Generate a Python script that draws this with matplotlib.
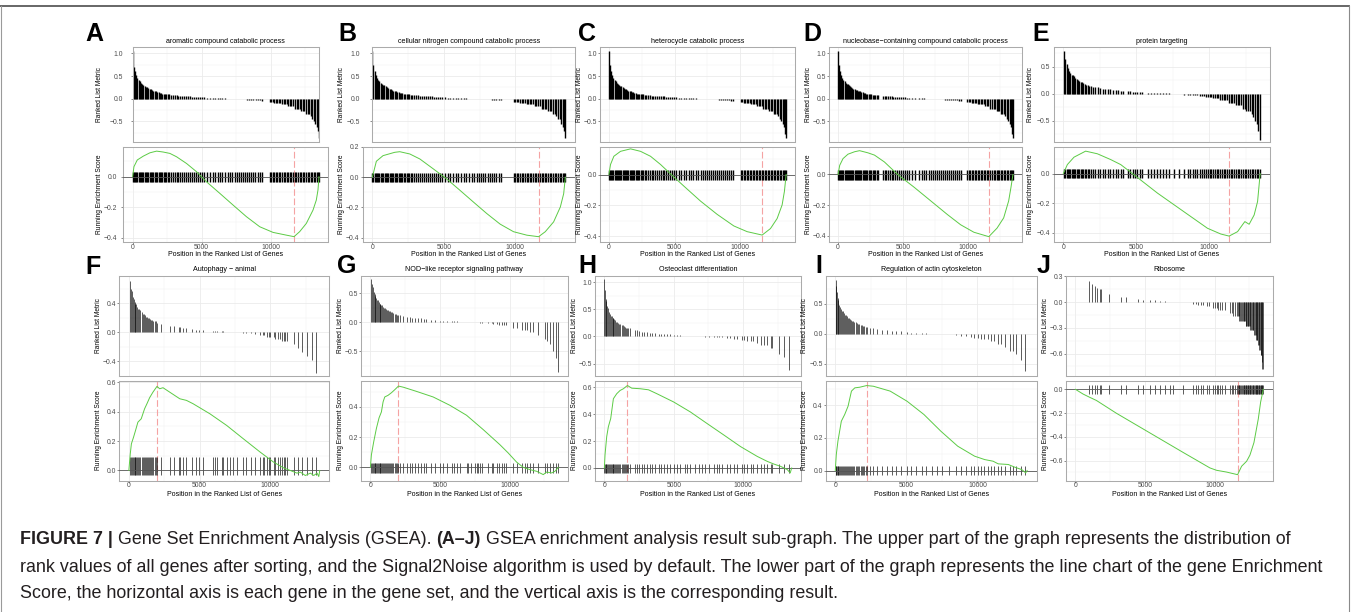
# -*- coding: utf-8 -*-
"""
GSEA result panels A-J: ranked list metric (top) and running enrichment score (bottom),
with the figure caption underneath.
"""
import matplotlib.pyplot as plt
import numpy as np
from matplotlib.lines import Line2D

plt.rcParams["font.family"] = ["Liberation Sans", "DejaVu Sans"]

W, H = 1352, 612
N_GENES = 13500

# %% Data
# Ranked list metric (Signal2Noise) of the full gene list, read at these ranks
metric_rank = [0, 10, 20, 35, 50, 75, 100, 135, 170, 210, 250, 300, 350, 400, 500, 600, 700, 800,
               900, 1000, 1100, 1250, 1400, 1500, 1650, 1800, 2000, 2250, 2500, 2750, 3000, 3500,
               4000, 4500, 5000, 5500, 6000, 6500, 7000, 7500, 8000, 8500, 9000, 9500, 10000,
               10500, 11000, 11500, 12000, 12400, 12700, 12900, 13050, 13150, 13250, 13330,
               13400, 13450, 13490]
metric_value = [1.06, 0.95, 0.9, 0.85, 0.8, 0.75, 0.7, 0.65, 0.6, 0.56, 0.52, 0.48, 0.45, 0.42,
                0.38, 0.35, 0.32, 0.3, 0.27, 0.25, 0.23, 0.21, 0.19, 0.18, 0.165, 0.15, 0.13,
                0.115, 0.1, 0.09, 0.08, 0.065, 0.05, 0.04, 0.03, 0.022, 0.015, 0.01, 0.004,
                -0.002, -0.01, -0.018, -0.03, -0.045, -0.065, -0.09, -0.125, -0.165, -0.22,
                -0.28, -0.33, -0.38, -0.44, -0.5, -0.56, -0.62, -0.7, -0.78, -0.86]

titles = ["aromatic compound catabolic process", "cellular nitrogen compound catabolic process",
          "heterocycle catabolic process", "nucleobase\u2212containing compound catabolic process",
          "protein targeting", "Autophagy \u2212 animal", "NOD\u2212like receptor signaling pathway",
          "Osteoclast differentiation", "Regulation of actin cytoskeleton", "Ribosome"]

# gene set members (rank in the list), one list per panel
hits_A = [5, 90, 180, 260, 350, 430, 520, 610, 700, 780, 870, 960, 1050, 1150, 1230, 1320, 1420,
          1500, 1600, 1690, 1780, 1880, 1960, 2060, 2150, 2250, 2340, 2440, 2530, 2620, 2760, 2900,
          3050, 3180, 3300, 3460, 3590, 3730, 3870, 4000, 4150, 4290, 4420, 4580, 4720, 4850, 5020,
          5200, 5380, 5600, 5790, 5950, 6150, 6320, 6500, 6700, 6880, 7050, 7230, 7400, 7550, 7700,
          7840, 7990, 8130, 8300, 8440, 8600, 8750, 8900, 9060, 9200, 9380, 9920, 10030, 10140,
          10260, 10370, 10480, 10600, 10710, 10820, 10940, 11050, 11160, 11280, 11390, 11500, 11620,
          11760, 11870, 11990, 12100, 12220, 12330, 12440, 12560, 12670, 12780, 12900, 13010, 13120,
          13230, 13330, 13420, 13490]
hits_B = [0, 70, 160, 250, 330, 420, 500, 590, 680, 770, 850, 940, 1030, 1120, 1210, 1290, 1380,
          1470, 1560, 1650, 1740, 1830, 1920, 2010, 2100, 2200, 2290, 2390, 2480, 2580, 2680, 2800,
          2940, 3070, 3200, 3350, 3480, 3620, 3760, 3900, 4040, 4180, 4330, 4470, 4610, 4760, 4900,
          5080, 5260, 5450, 5640, 5830, 6020, 6200, 6390, 6580, 6760, 6950, 7130, 7300, 7450, 7600,
          7760, 7900, 8060, 8210, 8370, 8520, 8680, 8850, 8990, 9880, 9990, 10100, 10220, 10330,
          10440, 10560, 10670, 10790, 10900, 11010, 11130, 11240, 11360, 11470, 11590, 11720, 11840,
          11950, 12070, 12180, 12300, 12410, 12530, 12640, 12760, 12870, 12990, 13100, 13210, 13320,
          13410, 13490]
hits_C = [0, 80, 170, 260, 340, 430, 520, 600, 690, 780, 870, 950, 1040, 1130, 1220, 1310, 1400,
          1490, 1580, 1670, 1760, 1850, 1940, 2030, 2130, 2220, 2320, 2410, 2510, 2610, 2720, 2850,
          2990, 3120, 3260, 3390, 3530, 3670, 3810, 3950, 4090, 4230, 4380, 4520, 4670, 4820, 4980,
          5150, 5330, 5510, 5700, 5880, 6070, 6250, 6440, 6620, 6810, 7000, 7180, 7350, 7500, 7650,
          7800, 7950, 8100, 8250, 8400, 8560, 8710, 8860, 9010, 9160, 9320, 9480, 10040, 10150,
          10260, 10380, 10490, 10600, 10720, 10830, 10950, 11060, 11170, 11290, 11400, 11520, 11640,
          11760, 11880, 11990, 12110, 12220, 12340, 12450, 12570, 12680, 12800, 12910, 13030, 13140,
          13250, 13350, 13430, 13490]
hits_D = [0, 75, 160, 245, 330, 410, 500, 580, 670, 750, 840, 930, 1010, 1100, 1190, 1280, 1360,
          1450, 1540, 1630, 1720, 1810, 1900, 1990, 2080, 2170, 2270, 2360, 2460, 2560, 2660, 2770,
          2880, 3000, 3110, 3480, 3600, 3730, 3860, 3990, 4130, 4260, 4400, 4540, 4680, 4830, 4980,
          5140, 5300, 5460, 5700, 5960, 6220, 6450, 6630, 6810, 7000, 7180, 7350, 7510, 7660, 7810,
          7970, 8120, 8280, 8430, 8590, 8740, 8900, 9050, 9210, 9370, 9520, 9990, 10100, 10210,
          10330, 10440, 10560, 10670, 10790, 10900, 11020, 11130, 11250, 11360, 11480, 11600, 11760,
          11880, 12000, 12110, 12230, 12340, 12460, 12570, 12690, 12800, 12920, 13030, 13150, 13260,
          13360, 13440, 13490]
hits_E = [50, 130, 220, 300, 390, 480, 560, 650, 740, 830, 920, 1010, 1100, 1190, 1290, 1380, 1480,
          1580, 1680, 1790, 1900, 2050, 2200, 2370, 2530, 2700, 2880, 3050, 3230, 3400, 3580, 3750,
          3930, 4080, 4450, 4600, 4760, 4920, 5080, 5250, 5420, 5800, 6000, 6200, 6400, 6610, 6820,
          7030, 7250, 7600, 7950, 8300, 8550, 8700, 8860, 9020, 9180, 9340, 9500, 9660, 9800, 9920,
          10040, 10160, 10280, 10400, 10520, 10640, 10760, 10880, 11000, 11120, 11240, 11360, 11480,
          11600, 11720, 11840, 11960, 12080, 12200, 12320, 12440, 12560, 12680, 12800, 12920, 13040,
          13160, 13280, 13380, 13490]
hits_F = [100, 160, 230, 290, 350, 410, 470, 540, 610, 680, 750, 820, 900, 970, 1040, 1110, 1190,
          1270, 1340, 1420, 1500, 1580, 1660, 1740, 1820, 1900, 1980, 2297, 2890, 3174, 3529, 3647,
          3837, 4074, 4500, 4784, 4974, 5258, 5968, 6087, 6205, 6561, 6679, 6916, 7153, 7389, 7626,
          8053, 8289, 8621, 8929, 9284, 9521, 9568, 9758, 9876, 9995, 10232, 10350, 10516, 10705,
          10824, 10942, 11061, 11179, 11653, 11937, 12245, 12600, 12950, 13250]
hits_G = [70, 130, 190, 250, 300, 360, 420, 480, 540, 600, 660, 720, 790, 850, 920, 980, 1040, 1110,
          1180, 1250, 1330, 1400, 1480, 1560, 1650, 1740, 1830, 1920, 1990, 2110, 2350, 2638, 2830,
          3021, 3189, 3429, 3669, 3837, 4029, 4388, 4628, 4988, 5228, 5468, 5827, 5995, 6187, 6427,
          6906, 7026, 7194, 7506, 7626, 7746, 7866, 7985, 8465, 8705, 8825, 9064, 9256, 9424, 9592,
          9736, 10263, 10503, 10863, 11103, 11223, 11462, 11702, 12062, 12541, 12709, 12901, 13140,
          13332, 13490]
hits_H = [0, 40, 90, 150, 210, 270, 330, 390, 460, 520, 590, 650, 720, 790, 860, 930, 1000, 1080,
          1160, 1240, 1320, 1400, 1490, 1580, 1660, 1736, 1856, 2218, 2339, 2532, 2700, 2869, 3062,
          3255, 3424, 3665, 3906, 4075, 4316, 4509, 4701, 4991, 5232, 5473, 5835, 5955, 6196, 6558,
          6799, 7040, 7281, 7522, 7884, 8125, 8246, 8487, 8848, 9089, 9331, 9572, 9933, 10102,
          10295, 10536, 10729, 11018, 11259, 11500, 11741, 11983, 12103, 12585, 12947, 13330]
hits_I = [20, 60, 110, 160, 220, 280, 340, 400, 460, 530, 600, 670, 740, 810, 880, 950, 1030, 1110,
          1190, 1270, 1350, 1430, 1510, 1600, 1690, 1780, 1870, 1960, 2050, 2140, 2230, 2437, 2673,
          2958, 3265, 3621, 3976, 4284, 4615, 5041, 5326, 5705, 6107, 6415, 6817, 7173, 7528, 8002,
          8475, 8830, 9185, 9541, 9778, 10015, 10252, 10488, 10725, 10962, 11199, 11436, 11673,
          11909, 12265, 12502, 12739, 13094, 13330]
hits_J = [983, 1223, 1391, 1583, 1751, 1870, 2422, 3309, 3621, 4508, 4868, 5348, 5707, 6067, 6427,
          6786, 6978, 7746, 8465, 8657, 8825, 8993, 9184, 9424, 9616, 9904, 10024, 10144, 10264,
          10383, 10503, 10743, 11103, 11223, 11343, 11463, 11590, 11650, 11720, 11770, 11840, 11900,
          11950, 12010, 12080, 12120, 12180, 12230, 12280, 12340, 12380, 12430, 12490, 12530, 12580,
          12640, 12680, 12730, 12790, 12830, 12880, 12940, 12980, 13030, 13080, 13130, 13170, 13220,
          13270, 13310, 13350, 13400, 13440, 13450]

# running enrichment score, read at these ranks
es_rank_A = [0, 96, 338, 771, 1254, 1736, 2218, 2700, 3182, 3905, 4629, 5352, 6316, 7280, 8245,
             9209, 10173, 11138, 11693, 12102, 12584, 13066, 13307, 13427, 13500]
es_A = [0, 0.066, 0.11, 0.135, 0.157, 0.168, 0.162, 0.153, 0.131, 0.087, 0.033, -0.033, -0.109,
        -0.186, -0.262, -0.328, -0.365, -0.383, -0.393, -0.36, -0.306, -0.219, -0.153, -0.087, 0]
es_rank_B = [0, 281, 749, 1567, 1918, 2620, 3322, 4258, 5194, 6130, 7066, 8002, 8938, 9874, 10810,
             11628, 12096, 12681, 13149, 13383, 13500]
es_B = [0, 0.105, 0.142, 0.164, 0.168, 0.153, 0.12, 0.055, -0.011, -0.087, -0.164, -0.24, -0.31,
        -0.36, -0.383, -0.393, -0.36, -0.295, -0.197, -0.109, 0]
es_rank_C = [0, 127, 380, 888, 1650, 2411, 3172, 3933, 4695, 5710, 6978, 8247, 9516, 10531, 11673,
             12307, 12814, 13194, 13371, 13500]
es_C = [0, 0.065, 0.118, 0.15, 0.166, 0.15, 0.118, 0.065, 0.004, -0.075, -0.172, -0.258, -0.333,
        -0.37, -0.392, -0.35, -0.285, -0.197, -0.108, 0]
es_rank_D = [0, 128, 383, 767, 1278, 1662, 2301, 2812, 3580, 4602, 5881, 7159, 8438, 9460, 10483,
             11636, 12273, 12784, 13168, 13347, 13500]
es_D = [0, 0.06, 0.104, 0.133, 0.149, 0.156, 0.142, 0.127, 0.082, 0.0, -0.084, -0.173, -0.262,
        -0.329, -0.378, -0.407, -0.351, -0.284, -0.173, -0.084, 0]
es_rank_E = [0, 275, 730, 1530, 2335, 3245, 3935, 4740, 6455, 8745, 9885, 10800, 11370, 11950,
             12300, 12450, 12745, 13088, 13323, 13500]
es_E = [0, 0.061, 0.111, 0.152, 0.134, 0.095, 0.061, 0.0, -0.132, -0.291, -0.37, -0.409, -0.423,
        -0.393, -0.345, -0.325, -0.343, -0.28, -0.189, 0]
es_rank_F = [0, 100, 180, 332, 474, 640, 876, 1113, 1279, 1468, 1705, 1990, 2179, 2416, 2889, 3600,
             4074, 4547, 5731, 6916, 8100, 9284, 10232, 10942, 11416, 11889, 12126, 12481, 12837,
             13074, 13311, 13429, 13500]
es_F = [0, 0.113, 0.181, 0.226, 0.272, 0.328, 0.351, 0.419, 0.453, 0.494, 0.532, 0.571, 0.555,
        0.562, 0.532, 0.487, 0.476, 0.453, 0.385, 0.306, 0.215, 0.125, 0.057, 0.018, 0.0, -0.018,
        -0.011, -0.034, -0.018, -0.034, -0.018, -0.041, 0]
es_rank_G = [0, 72, 240, 432, 623, 791, 911, 1031, 1271, 1511, 1750, 2014, 2350, 3309, 4508, 5707,
             6906, 8105, 9304, 9904, 10503, 10983, 11462, 11942, 12421, 12661, 13020, 13260, 13500]
es_G = [0, 0.083, 0.17, 0.258, 0.328, 0.367, 0.433, 0.466, 0.477, 0.494, 0.514, 0.538, 0.531, 0.503,
        0.466, 0.411, 0.345, 0.25, 0.15, 0.095, 0.035, 0.0, -0.015, -0.026, -0.048, -0.031, -0.037,
        -0.026, 0]
es_rank_H = [0, 48, 169, 289, 458, 651, 892, 1133, 1374, 1663, 1976, 2579, 3182, 3784, 4989, 6195,
             7400, 8606, 9811, 11016, 11739, 12221, 12703, 13185, 13400, 13500]
es_H = [0, 0.098, 0.233, 0.306, 0.367, 0.514, 0.551, 0.575, 0.588, 0.612, 0.592, 0.588, 0.58, 0.551,
        0.49, 0.416, 0.33, 0.245, 0.159, 0.086, 0.049, 0.029, 0.012, -0.012, -0.037, 0]
es_rank_I = [0, 71, 186, 426, 663, 900, 1137, 1374, 1726, 2200, 2674, 3863, 5053, 6237, 7426, 8616,
             9800, 10516, 11110, 11463, 12174, 12646, 13118, 13400, 13500]
es_I = [0, 0.098, 0.18, 0.302, 0.343, 0.394, 0.486, 0.506, 0.51, 0.52, 0.516, 0.486, 0.424, 0.343,
        0.241, 0.149, 0.088, 0.067, 0.057, 0.041, 0.037, 0.02, 0.006, -0.014, 0]
es_rank_J = [0, 551, 983, 1510, 2949, 5347, 7745, 9663, 10141, 10860, 11654, 11941, 12300, 12540,
             12827, 13139, 13307, 13500]
es_J = [0, -0.04, -0.065, -0.094, -0.202, -0.367, -0.532, -0.662, -0.682, -0.697, -0.719, -0.648,
        -0.606, -0.554, -0.449, -0.25, -0.108, 0]

caption_lines = [
    [("FIGURE 7 |", True), ("Gene Set Enrichment Analysis (GSEA).", False), ("(A\u2013J)", True),
     ("GSEA enrichment analysis result sub-graph. The upper part of the graph represents the distribution of", False)],
    [("rank values of all genes after sorting, and the Signal2Noise algorithm is used by default. "
      "The lower part of the graph represents the line chart of the gene Enrichment", False)],
    [("Score, the horizontal axis is each gene in the gene set, and the vertical axis is the "
      "corresponding result.", False)],
]

hits = [hits_A, hits_B, hits_C, hits_D, hits_E, hits_F, hits_G, hits_H, hits_I, hits_J]
es_ranks = [es_rank_A, es_rank_B, es_rank_C, es_rank_D, es_rank_E,
            es_rank_F, es_rank_G, es_rank_H, es_rank_I, es_rank_J]
es_values = [es_A, es_B, es_C, es_D, es_E, es_F, es_G, es_H, es_I, es_J]

# %% Layout, in pixels of the 1352x612 picture
letters = "ABCDEFGHIJ"
bottom_box = [(123.3, 328.3), (362.7, 575), (600, 795), (829.3, 1021.7), (1053.5, 1270),
              (119.3, 329.3), (361, 567.7), (595, 801), (825.7, 1036.7), (1066, 1272.7)]
top_box = [(132.6, 319.3), (371.7, 575)] + bottom_box[2:]
X_EXP = (-0.05 * N_GENES, 1.05 * N_GENES)
top_xlim = [(0, 13520), (-45, X_EXP[1])] + [X_EXP] * 8
rows_y = [((46.7, 141.7), (146.7, 241.7)), ((275.5, 375.5), (380.5, 480.5))]
title_y = [41.7, 269.5]
xtick_label_y = [254.5, 494.7]

top_ylim = [(-0.945, 1.145)] * 4 + [(-0.894, 0.873), (-0.6, 0.78), (-0.914, 0.803),
                                    (-0.72, 1.125), (-0.694, 0.972), (-0.855, 0.31)]
top_step = [0.5, 0.5, 0.5, 0.5, 0.5, 0.4, 0.5, 0.5, 0.5, 0.3]
bot_ylim = [(-0.426, 0.197), (-0.426, 0.201), (-0.435, 0.18), (-0.44, 0.182), (-0.461, 0.182),
            (-0.068, 0.611), (-0.087, 0.575), (-0.093, 0.649), (-0.061, 0.551), (-0.768, 0.074)]
tick_band = [(-0.033, 0.028)] * 4 + [(-0.03, 0.032), (-0.03, 0.09), (-0.037, 0.028),
                                     (-0.037, 0.03), (-0.029, 0.027), (-0.037, 0.04)]
ytick_gap = [(9.4, 6.0), (11.7, 3.4)] + [(3, 3)] * 8
ylabel_x = [99.5, 341.5, 579.5, 808.5, 1031, 98.5, 340.5, 574.5, 805, 1045.5]
letter_xy = [(94.5, 34), (347, 34), (587, 34), (812, 34), (1040.5, 34),
             (93, 267), (347, 266), (587, 266), (818.5, 266), (1044, 266)]
dense = [True] * 5 + [False] * 5

GRID = "#EBEBEB"
BORDER = "#ABABAB"
TICK_TEXT = "#4D4D4D"
ES_GREEN = "#5CCB45"
PEAK_RED = "#F5A3A3"
TICK_SIZE = 4.9

fig = plt.figure(figsize=(W / 100, H / 100), dpi=100)


def px_axes(x0, x1, y0, y1):
    return fig.add_axes([x0 / W, 1 - y1 / H, (x1 - x0) / W, (y1 - y0) / H])


def style_axes(ax, xlim, ylim, step, gap_px, show_x):
    ax.set_xlim(xlim)
    ax.set_ylim(ylim)
    k = np.arange(np.ceil(ylim[0] / step - 1e-9), np.floor(ylim[1] / step + 1e-9) + 1)
    major = np.round(k * step, 2) + 0.0
    km = np.arange(np.floor(ylim[0] / step), np.ceil(ylim[1] / step)) + 0.5
    minor = km * step
    minor = minor[(minor > ylim[0]) & (minor < ylim[1])]
    ax.set_yticks(major)
    ax.set_yticklabels([f"{v:.1f}".replace("-", "\u2212") for v in major])
    ax.set_yticks(minor, minor=True)
    ax.set_xticks([0, 5000, 10000])
    ax.set_xticks([2500, 7500, 12500], minor=True)
    ax.set_xticklabels(["0", "5000", "10000"])
    ax.grid(which="major", color=GRID, lw=0.6)
    ax.grid(which="minor", color="#F2F2F2", lw=0.35)
    ax.set_axisbelow(True)
    for s in ax.spines.values():
        s.set_color(BORDER)
        s.set_linewidth(0.75)
    ax.tick_params(which="minor", length=0)
    ax.tick_params(axis="y", which="major", length=1.2, width=0.4, color="#333333",
                   labelsize=TICK_SIZE, labelcolor=TICK_TEXT, pad=max(gap_px * 0.72 - 1.2, 0))
    if show_x:
        ax.tick_params(axis="x", which="major", length=1.2, width=0.4, color="#333333",
                       labelsize=TICK_SIZE, labelcolor=TICK_TEXT, pad=0.2)
    else:
        ax.tick_params(axis="x", which="major", length=0, labelbottom=False)


metric_rank_arr = np.array(metric_rank)
metric_value_arr = np.array(metric_value)

for i in range(10):
    row = 0 if i < 5 else 1
    (ty0, ty1), (by0, by1) = rows_y[row]
    bx0, bx1 = bottom_box[i]
    tx0, tx1 = top_box[i]
    gene_pos = np.array(hits[i])
    # metric of each gene set member, looked up at the nearest reading of the ranked list
    nearest = np.abs(gene_pos[:, None] - metric_rank_arr[None, :]).argmin(axis=1)
    gene_metric = metric_value_arr[nearest]
    bar_lw = 1.0 if dense[i] else 0.45

    # ranked list metric
    ax_top = px_axes(tx0, tx1, ty0, ty1)
    ax_top.vlines(gene_pos, 0, gene_metric, color="black", lw=bar_lw)
    style_axes(ax_top, top_xlim[i], top_ylim[i], top_step[i], ytick_gap[i][0], False)

    # running enrichment score
    ax_bot = px_axes(bx0, bx1, by0, by1)
    ax_bot.vlines(gene_pos, tick_band[i][0], tick_band[i][1], color="black", lw=bar_lw, zorder=2)
    ax_bot.axhline(0, color="#555555", lw=0.6, zorder=3)
    ranks = np.array(es_ranks[i])
    es = np.array(es_values[i])
    peak = ranks[np.abs(es).argmax()]
    ax_bot.axvline(peak, color=PEAK_RED, lw=0.8, dashes=(6, 2.4), zorder=1.5)
    ax_bot.plot(ranks, es, color=ES_GREEN, lw=0.7, zorder=4)
    style_axes(ax_bot, X_EXP, bot_ylim[i], 0.2, ytick_gap[i][1], True)

    # texts
    cx = (bx0 + bx1) / 2
    fig.text(cx / W, 1 - title_y[row] / H, titles[i], fontsize=5.1, ha="center", va="center")
    fig.text(cx / W, 1 - xtick_label_y[row] / H, "Position in the Ranked List of Genes",
             fontsize=5.0, ha="center", va="center")
    fig.text(ylabel_x[i] / W, 1 - (ty0 + ty1) / 2 / H, "Ranked List Metric", fontsize=4.8,
             rotation=90, ha="center", va="center")
    fig.text(ylabel_x[i] / W, 1 - (by0 + by1) / 2 / H, "Running Enrichment Score", fontsize=4.8,
             rotation=90, ha="center", va="center")
    lx, ly = letter_xy[i]
    fig.text(lx / W, 1 - ly / H, letters[i], fontsize=18, fontweight="bold", ha="center",
             va="center")

# %% caption
CAPTION_SIZE = 12.9
caption_y = [540, 567, 593]
renderer = fig.canvas.get_renderer()
space_px = CAPTION_SIZE / 0.72 * 0.278
for y, parts in zip(caption_y, caption_lines):
    x = 20
    for text, bold in parts:
        t = fig.text(x / W, 1 - y / H, text, fontsize=CAPTION_SIZE, color="#231F20",
                     fontweight="bold" if bold else "normal", ha="left", va="center")
        x += t.get_window_extent(renderer).width + space_px

# frame around the figure
fig.add_artist(Line2D([0, 1349 / W], [1 - 6 / H] * 2, color="#5A5A5A", lw=1.3))
fig.add_artist(Line2D([1 / W, 1 / W], [0, 1 - 6 / H], color="#9A9A9A", lw=0.8))
fig.add_artist(Line2D([1349 / W, 1349 / W], [0, 1 - 6 / H], color="#8A8A8A", lw=0.8))

fig.savefig("out.png", dpi=100)
